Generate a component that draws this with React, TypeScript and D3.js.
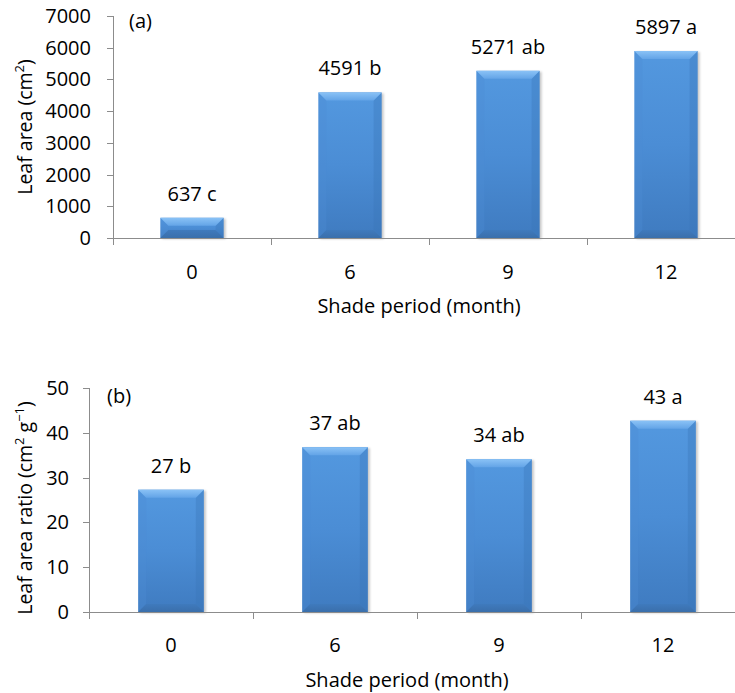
import React from "react";
import * as d3 from "d3";

const categories = ["0", "6", "9", "12"];
const leafArea = [637, 4591, 5271, 5897];
const leafAreaLabels = ["637 c", "4591 b", "5271 ab", "5897 a"];
const leafAreaTicks = [0, 1000, 2000, 3000, 4000, 5000, 6000, 7000];
const leafAreaRatio = [27.3, 36.8, 34.1, 42.7];
const leafAreaRatioLabels = ["27 b", "37 ab", "34 ab", "43 a"];
const leafAreaRatioTicks = [0, 10, 20, 30, 40, 50];

const FONT = "'Open Sans', sans-serif";
const AXIS = "#8c8c8c";

function Bar({ x, y, w, h }: { x: number; y: number; w: number; h: number }) {
  const b = Math.min(8, h / 2);
  const top = `${x},${y} ${x + w},${y} ${x + w - b},${y + b} ${x + b},${y + b}`;
  const bot = `${x},${y + h} ${x + w},${y + h} ${x + w - b},${y + h - b} ${x + b},${y + h - b}`;
  const left = `${x},${y} ${x + b},${y + b} ${x + b},${y + h - b} ${x},${y + h}`;
  const right = `${x + w},${y} ${x + w - b},${y + b} ${x + w - b},${y + h - b} ${x + w},${y + h}`;
  return (
    <g>
      <rect x={x + 2} y={y + 1} width={w} height={h} fill="rgba(0,0,0,0.22)" filter="url(#shadowBlur)" />
      <rect x={x} y={y} width={w} height={h} fill="url(#faceGrad)" />
      <polygon points={left} fill="#4c8dd5" opacity={0.35} />
      <polygon points={right} fill="#3a75b8" opacity={0.35} />
      <polygon points={top} fill="url(#topGrad)" />
      <polygon points={bot} fill="url(#botGrad)" />
    </g>
  );
}

function Panel({
  values,
  labels,
  ticks,
  left,
  y0,
  y1,
  maxV,
  tag,
  tagX,
  tagY,
  xLabelY,
  xTitleY,
  yTitle,
  yTitleX,
  yTitleY,
  tickLabelRight,
}: any) {
  const right = 745;
  const x = d3.scaleBand<string>().domain(categories).range([left, right]).paddingInner(0.6).paddingOuter(0.3);
  const y = d3.scaleLinear().domain([0, maxV]).range([y0, y1]);
  const step = x.step();
  const bw = x.bandwidth();
  return (
    <g>
      <line x1={left + 0.5} x2={left + 0.5} y1={y(maxV)} y2={y(0)} stroke={AXIS} />
      {ticks.map((t: number) => (
        <g key={t}>
          <line x1={left - 6} x2={left} y1={Math.round(y(t)) + 0.5} y2={Math.round(y(t)) + 0.5} stroke={AXIS} />
          <text x={tickLabelRight} y={y(t) + 7} textAnchor="end" fontSize={20} fontFamily={FONT}>
            {t}
          </text>
        </g>
      ))}
      {values.map((v: number, i: number) => {
        const bx = x(categories[i])!;
        const by = y(v);
        return (
          <g key={i}>
            <Bar x={bx} y={by} w={bw} h={y(0) - by} />
            <text x={bx + bw / 2} y={by - 17} textAnchor="middle" fontSize={20} fontFamily={FONT}>
              {labels[i]}
            </text>
          </g>
        );
      })}
      <line x1={left - 6} x2={735} y1={Math.round(y(0)) + 0.5} y2={Math.round(y(0)) + 0.5} stroke={AXIS} />
      {d3.range(categories.length + 1).map((i) => (
        <line
          key={i}
          x1={Math.round(left + i * step) + 0.5}
          x2={Math.round(left + i * step) + 0.5}
          y1={y(0)}
          y2={y(0) + 7}
          stroke={AXIS}
        />
      ))}
      {categories.map((c) => (
        <text key={c} x={x(c)! + bw / 2} y={xLabelY} textAnchor="middle" fontSize={20} fontFamily={FONT}>
          {c}
        </text>
      ))}
      <text x={(left + right) / 2 - 10} y={xTitleY} textAnchor="middle" fontSize={20} fontFamily={FONT}>
        Shade period (month)
      </text>
      <text transform={`translate(${yTitleX},${yTitleY}) rotate(-90)`} textAnchor="middle" fontSize={19.5} fontFamily={FONT}>
        {yTitle}
      </text>
      <text x={tagX} y={tagY} fontSize={20} fontFamily={FONT}>
        {tag}
      </text>
    </g>
  );
}

export default function App() {
  return (
    <svg
      width={735}
      height={693}
      style={{ position: "absolute", left: 0, top: 0, background: "#fff" }}
    >
      <defs>
        <linearGradient id="faceGrad" x1="0" y1="0" x2="0" y2="1">
          <stop offset="0" stopColor="#5398df" />
          <stop offset="0.5" stopColor="#4b8dd5" />
          <stop offset="1" stopColor="#3f7bc0" />
        </linearGradient>
        <linearGradient id="topGrad" x1="0" y1="0" x2="0" y2="1">
          <stop offset="0" stopColor="#8ac2f6" />
          <stop offset="1" stopColor="#63a4e7" />
        </linearGradient>
        <linearGradient id="botGrad" x1="0" y1="0" x2="0" y2="1">
          <stop offset="0" stopColor="#3f7abd" />
          <stop offset="1" stopColor="#3a6fab" />
        </linearGradient>
        <filter id="shadowBlur" x="-20%" y="-20%" width="140%" height="140%">
          <feGaussianBlur stdDeviation="1.2" />
        </filter>
      </defs>
      <Panel
        values={leafArea}
        labels={leafAreaLabels}
        ticks={leafAreaTicks}
        left={113}
        y0={238}
        y1={16}
        maxV={7000}
        tag="(a)"
        tagX={129}
        tagY={28}
        xLabelY={279}
        xTitleY={313}
        yTitle={
          <>
            Leaf area (cm
            <tspan fontSize={13} dy={-8}>2</tspan>
            <tspan dy={8}>)</tspan>
          </>
        }
        yTitleX={32}
        yTitleY={127}
        tickLabelRight={91}
      />
      <Panel
        values={leafAreaRatio}
        labels={leafAreaRatioLabels}
        ticks={leafAreaRatioTicks}
        left={89}
        y0={612}
        y1={388}
        maxV={50}
        tag="(b)"
        tagX={107}
        tagY={403}
        xLabelY={652}
        xTitleY={687}
        yTitle={
          <>
            Leaf area ratio (cm
            <tspan fontSize={13} dy={-8}>2</tspan>
            <tspan dy={8}> g</tspan>
            <tspan fontSize={13} dy={-8}>−1</tspan>
            <tspan dy={8}>)</tspan>
          </>
        }
        yTitleX={32}
        yTitleY={508}
        tickLabelRight={69}
      />
    </svg>
  );
}
